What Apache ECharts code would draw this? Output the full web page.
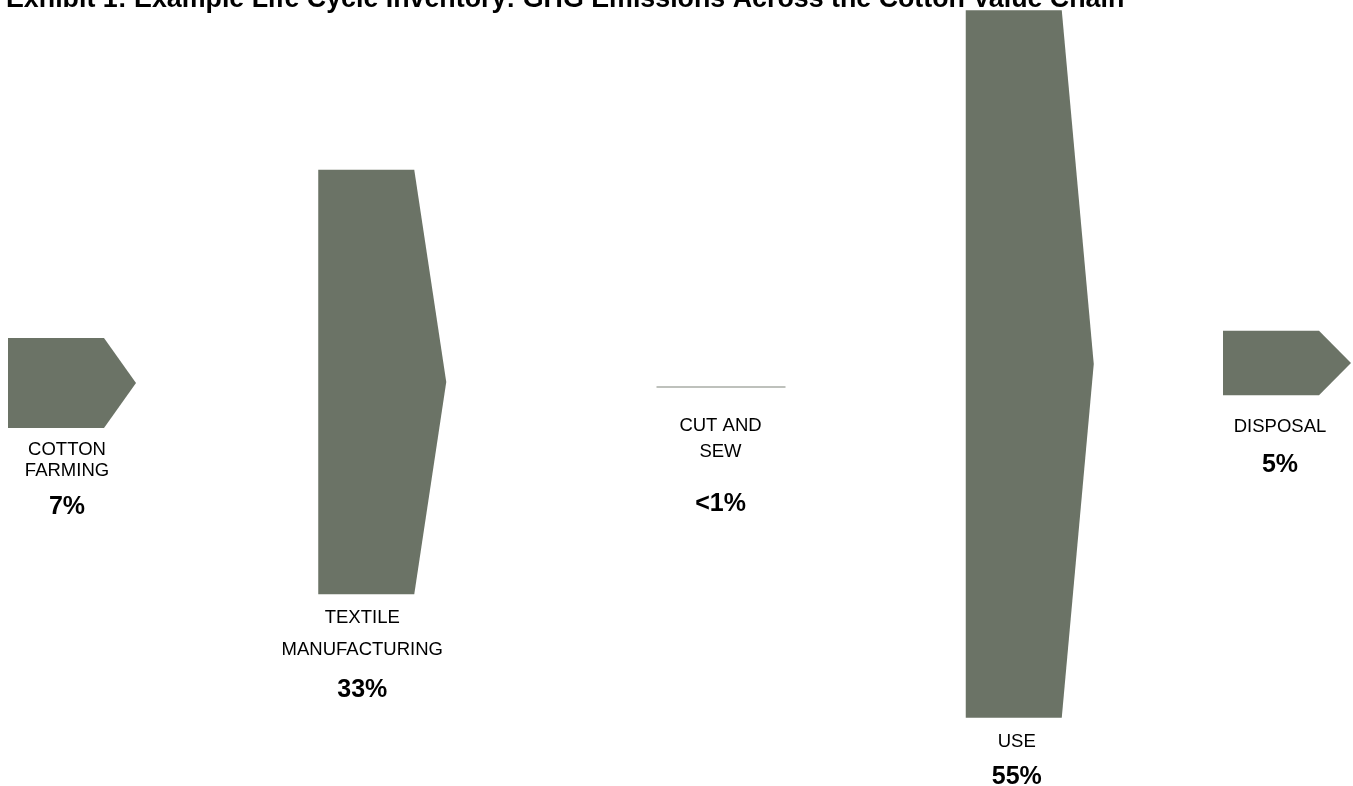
<!DOCTYPE html>
<html>
<head>
<meta charset="utf-8">
<title>GHG Emissions Across the Cotton Value Chain</title>
<script src="https://cdn.jsdelivr.net/npm/echarts@6/dist/echarts.min.js"></script>
<style>
  html, body { margin: 0; padding: 0; background: #fff; }
  #chart { width: 1353px; height: 786px; }
</style>
</head>
<body>
<div id="chart"></div>
<script>
// stages of the cotton value chain and their share of life cycle GHG emissions
const stages = ['COTTON\nFARMING', 'TEXTILE\nMANUFACTURING', 'CUT AND\nSEW', 'USE', 'DISPOSAL']
const shares = [7, 33, 0.1, 55, 5] // "<1%" is drawn as a hairline
const shareLabels = ['7%', '33%', '<1%', '55%', '5%']

// per stage layout tweaks in px, the original is not evenly spaced
const shiftX = [-10, -8, 22, 23, -28]
const shiftY = [-3, -4, 1, -22, -23]
const nameShiftX = [-5, -20, 0, -13, -7]
const nameGap = [22, 24, 38, 24, 32]
const nameLine = [21, 32, 26, 20, 20]
const pctGap = [36, 40, 52, 35, 38]

const FONT = '"Liberation Sans", Arial, sans-serif'
const SHAPE = '#6b7366'
const RECT_W = 96
const TIP_W = 32

function renderItem (params, api) {
  const i = params.dataIndex
  const mid = api.coord([api.value(0), 0])
  const h = api.size([0, api.value(1)])[1]
  const cx = mid[0] + shiftX[i]
  const cy = mid[1] + shiftY[i]
  const x0 = cx - (RECT_W + TIP_W) / 2
  const top = cy - h / 2
  const bottom = cy + h / 2
  let mark
  if (h < 3) {
    // too small to show as an arrow
    mark = {
      type: 'rect',
      shape: { x: x0, y: cy - 0.75, width: RECT_W + TIP_W + 1, height: 1.5 },
      style: { fill: '#a9aca6' }
    }
  } else {
    mark = {
      type: 'polygon',
      shape: {
        points: [[x0, top], [x0 + RECT_W, top], [x0 + RECT_W + TIP_W, cy], [x0 + RECT_W, bottom], [x0, bottom]]
      },
      style: { fill: SHAPE }
    }
  }
  const lines = stages[i].split('\n').length
  const firstLine = bottom + nameGap[i]
  const lx = cx + nameShiftX[i]
  return {
    type: 'group',
    children: [
      mark,
      {
        type: 'text',
        x: lx,
        y: firstLine - nameLine[i] / 2,
        style: {
          text: stages[i],
          fontSize: 18.5,
          lineHeight: nameLine[i],
          fontFamily: FONT,
          fill: '#000',
          align: 'center',
          verticalAlign: 'top'
        }
      },
      {
        type: 'text',
        x: lx,
        y: firstLine + (lines - 1) * nameLine[i] + pctGap[i],
        style: {
          text: shareLabels[i],
          fontSize: 25,
          fontWeight: 'bold',
          fontFamily: FONT,
          fill: '#000',
          align: 'center',
          verticalAlign: 'middle'
        }
      }
    ]
  }
}

const chart = echarts.init(document.getElementById('chart'))
chart.setOption({
  animation: false,
  title: {
    text: 'Exhibit 1: Example Life Cycle Inventory: GHG Emissions Across the Cotton Value Chain',
    left: 6,
    top: -14,
    padding: 0,
    textStyle: { fontSize: 26.8, fontWeight: 'bold', color: '#000', fontFamily: FONT }
  },
  grid: { left: 82, right: 38, top: 0, bottom: 14 },
  xAxis: { type: 'category', data: stages, boundaryGap: false, show: false },
  yAxis: { type: 'value', min: -30, max: 30, show: false },
  series: [{
    type: 'custom',
    renderItem: renderItem,
    data: shares.map((v, i) => [i, v]),
    z: 1
  }]
})
</script>
</body>
</html>
